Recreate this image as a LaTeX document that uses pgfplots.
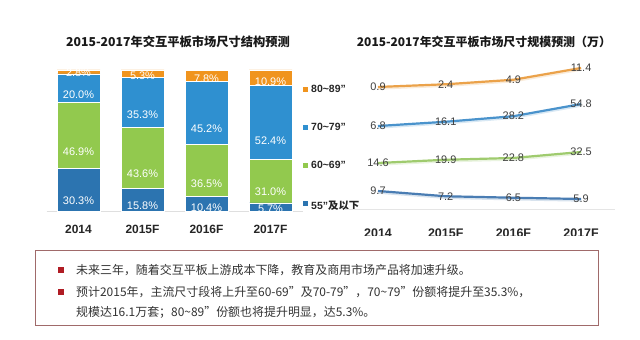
\documentclass[border=0pt]{standalone}
\usepackage{fontspec}
\setmainfont{Liberation Sans}
\newfontfamily\cjk{Noto Sans CJK SC}
\usepackage{pgfplots}
\pgfplotsset{compat=1.18}
\definecolor{cA}{HTML}{2C74B0}
\definecolor{cB}{HTML}{92C94E}
\definecolor{cC}{HTML}{2F90D0}
\definecolor{cD}{HTML}{F0941E}
\definecolor{lA}{HTML}{4A7DB3}
\definecolor{lB}{HTML}{9FCB6E}
\definecolor{lC}{HTML}{4A93CC}
\definecolor{lD}{HTML}{EBA24A}
\definecolor{boxc}{HTML}{A06A6A}
\definecolor{bul}{HTML}{B01C24}
\definecolor{lbl}{HTML}{404040}
\pgfplotsset{
  /pgf/number format/assume math mode=true,
  band/.style={at={(344.15bp,130bp)}, anchor=south west, scale only axis,
    width=270.8bp, height=149bp, xmin=-0.5, xmax=3.5, hide axis, clip=false},
  shadowline/.style={line width=2.2bp, yshift=-1.6bp, opacity=0.35},
  mainline/.style={line width=2.2bp,
    nodes near coords={\pgfmathprintnumber[fixed,fixed zerofill,precision=1]{\pgfplotspointmeta}},
    every node near coord/.append style={anchor=center, font=\fontsize{11}{13}\selectfont, text=lbl}},
}
\begin{document}
\begin{tikzpicture}[x=1bp,y=1bp]
\path[fill=white] (0,0) rectangle (640,339);
% titles
\node[font=\cjk\bfseries\fontsize{12.3}{15}\selectfont, text=black!90] at (178,297) {2015-2017年交互平板市场尺寸结构预测};
\node[font=\cjk\bfseries\fontsize{12}{15}\selectfont, text=black!90] at (484,297) {2015-2017年交互平板市场尺寸规模预测（万）};

% left stacked bar chart
\begin{axis}[at={(46.5bp,128bp)}, anchor=south west, scale only axis,
  width=256bp, height=141bp,
  ybar stacked, bar width=43bp, xmin=-0.5, xmax=3.5, ymin=0, ymax=100,
  axis x line*=bottom, hide y axis, x axis line style={draw=gray!25},
  xtick={0,1,2,3}, xticklabels={2014,2015F,2016F,2017F}, major tick length=0pt,
  xticklabel style={font=\bfseries\fontsize{12}{14}\selectfont, text=black!85, anchor=center, yshift=-18bp},
  visualization depends on={rawy \as \rawy},
  nodes near coords={\pgfmathprintnumber[fixed,fixed zerofill,precision=1]{\rawy}\%},
  every node near coord/.append style={anchor=center, yshift=-0.3538*\rawy, font=\fontsize{11}{13}\selectfont, text=white},
  clip=false]
\addplot[fill=cA, draw=white, line width=0.8bp] coordinates {(0,30.3) (1,15.8) (2,10.4) (3,5.7)};
\addplot[fill=cB, draw=white, line width=0.8bp] coordinates {(0,46.9) (1,43.6) (2,36.5) (3,31.0)};
\addplot[fill=cC, draw=white, line width=0.8bp] coordinates {(0,20.0) (1,35.3) (2,45.2) (3,52.4)};
\addplot[fill=cD, draw=white, line width=0.8bp] coordinates {(0,2.8) (1,5.3) (2,7.8) (3,10.9)};
\end{axis}

% legend
\fill[cD] (303,247.5) rectangle (308,252.5);
\node[anchor=west, font=\bfseries\fontsize{10.5}{12}\selectfont, text=black!85, inner sep=0pt] at (311,250) {80\textasciitilde89"};
\fill[cC] (303,209.5) rectangle (308,214.5);
\node[anchor=west, font=\bfseries\fontsize{10.5}{12}\selectfont, text=black!85, inner sep=0pt] at (311,212) {70\textasciitilde79"};
\fill[cB] (303,171.5) rectangle (308,176.5);
\node[anchor=west, font=\bfseries\fontsize{10.5}{12}\selectfont, text=black!85, inner sep=0pt] at (311,174) {60\textasciitilde69"};
\fill[cA] (303,133.5) rectangle (308,138.5);
\node[anchor=west, font=\bfseries\fontsize{10.5}{12}\selectfont, text=black!85, inner sep=0pt] at (311,133) {55"{\cjk\bfseries 及以下}};

% right chart: base axis
\begin{axis}[at={(344.15bp,130bp)}, anchor=south west, scale only axis,
  width=270.8bp, height=149bp, xmin=-0.5, xmax=3.5, ymin=0, ymax=1,
  axis x line*=bottom, hide y axis, x axis line style={draw=gray!20},
  xtick={0,1,2,3}, xticklabels={2014,2015F,2016F,2017F}, major tick length=0pt,
  xticklabel style={font=\bfseries\fontsize{12.5}{14}\selectfont, text=black!85, anchor=center, yshift=-24bp}]
\end{axis}
% 80~89
\begin{axis}[band, ymin=-66.5, ymax=15.8]
\addplot[lD!60, shadowline] coordinates {(0,0.9) (1,2.4) (2,4.9) (3,11.4)};
\addplot[lD, mainline] coordinates {(0,0.9) (1,2.4) (2,4.9) (3,11.4)};
\end{axis}
% 70~79
\begin{axis}[band, ymin=-174.4, ymax=150.9]
\addplot[lC!60, shadowline] coordinates {(0,6.8) (1,16.1) (2,28.2) (3,54.8)};
\addplot[lC, mainline] coordinates {(0,6.8) (1,16.1) (2,28.2) (3,54.8)};
\end{axis}
% 60~69
\begin{axis}[band, ymin=-60.2, ymax=182.1]
\addplot[lB!60, shadowline] coordinates {(0,14.6) (1,19.9) (2,22.8) (3,32.5)};
\addplot[lB, mainline] coordinates {(0,14.6) (1,19.9) (2,22.8) (3,32.5)};
\end{axis}
% 55 and below
\begin{axis}[band, ymin=1.13, ymax=72.1]
\addplot[lA!60, shadowline] coordinates {(0,9.7) (1,7.2) (2,6.5) (3,5.9)};
\addplot[lA, mainline] coordinates {(0,9.7) (1,7.2) (2,6.5) (3,5.9)};
\end{axis}
\fill[white] (330,90) rectangle (640,103);

% bottom text box
\draw[boxc, line width=0.8bp] (35,14) rectangle (598,89);
\fill[bul] (58,66) rectangle (64,72);
\fill[bul] (58,44) rectangle (64,50);
\node[anchor=west, inner sep=0pt, font=\cjk\fontsize{12}{14}\selectfont, text=black!80] at (76,69) {未来三年，随着交互平板上游成本下降，教育及商用市场产品将加速升级。};
\node[anchor=west, inner sep=0pt, font=\cjk\fontsize{12}{14}\selectfont, text=black!80] at (76,47) {预计2015年，主流尺寸段将上升至60-69”及70-79”，70\textasciitilde79”份额将提升至35.3\%，};
\node[anchor=west, inner sep=0pt, font=\cjk\fontsize{12}{14}\selectfont, text=black!80] at (76,27) {规模达16.1万套；80\textasciitilde89”份额也将提升明显，达5.3\%。};
\end{tikzpicture}
\end{document}
